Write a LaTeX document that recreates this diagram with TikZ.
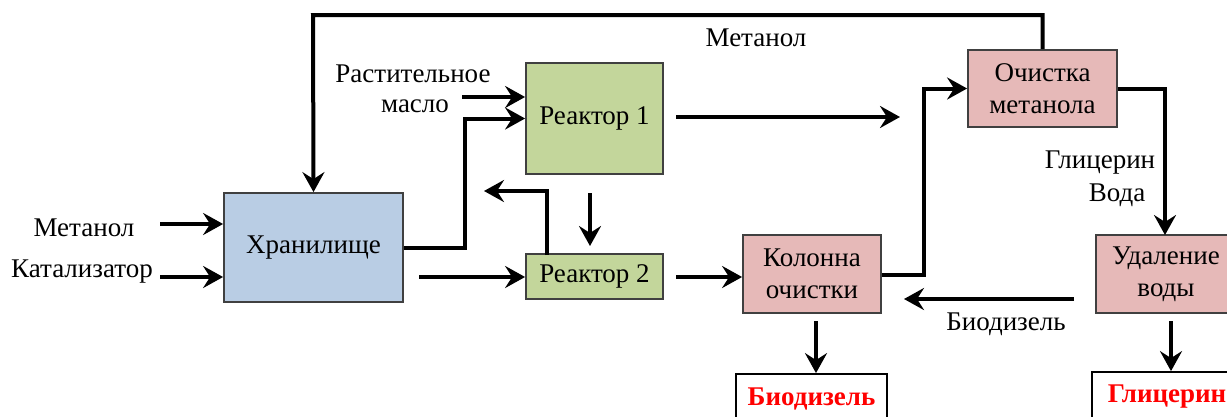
\documentclass[tikz,border=0pt]{standalone}
\usepackage{fontspec}
\setmainfont{Liberation Serif}
\usetikzlibrary{arrows.meta}
\definecolor{boxblue}{RGB}{185,205,228}
\definecolor{boxgreen}{RGB}{195,214,155}
\definecolor{boxpink}{RGB}{230,185,184}
\definecolor{boxline}{RGB}{64,64,64}
\begin{document}
\begin{tikzpicture}[x=1pt,y=-1pt,
  every node/.style={font=\fontsize{27}{32}\selectfont, inner sep=0pt},
  procbox/.style={draw=boxline, line width=1.8pt, align=center},
  bluebox/.style={procbox, fill=boxblue},
  greenbox/.style={procbox, fill=boxgreen},
  pinkbox/.style={procbox, fill=boxpink},
  outbox/.style={draw=black, line width=1.8pt, fill=white, text=red, font=\fontsize{27}{32}\selectfont\bfseries},
  lbl/.style={align=center},
  arr/.style={line width=4pt, -{Stealth[length=20pt,width=22pt,inset=7pt]}},
  ln/.style={line width=4pt}]
\useasboundingbox (0,0) rectangle (1227,416);
\clip (0,0) rectangle (1227,416);

% boxes
\node[bluebox, minimum width=179pt, minimum height=109pt] (H) at (313.5,247.5) {Хранилище};
\node[greenbox, minimum width=137pt, minimum height=111pt] (R1) at (594.5,118.5) {Реактор 1};
\node[greenbox, minimum width=137pt, minimum height=45pt] (R2) at (594.5,276.5) {Реактор 2};
\node[pinkbox, minimum width=138pt, minimum height=78pt] (K) at (812,274) {Колонна\\очистки};
\node[pinkbox, minimum width=149pt, minimum height=77pt] (O) at (1042.5,88.5) {Очистка\\метанола};
\node[pinkbox, minimum width=140pt, minimum height=78pt] (U) at (1166,274) {Удаление\\воды};
\node[outbox, minimum width=151pt, minimum height=50pt] (B) at (811.5,399) {Биодизель};
\node[outbox, minimum width=150pt, minimum height=50pt] (G) at (1167,397) {Глицерин};

% labels
\node[lbl] (lmet) at (84,228) {Метанол};
\node[lbl] (lkat) at (82,272) {Катализатор};
\node[lbl] (lrast) at (413,74) {Растительное};
\node[lbl] (lmaslo) at (415,106) {масло};
\node[lbl] (lmettop) at (756,38) {Метанол};
\node[lbl] (lglic) at (1100,163) {Глицерин};
\node[lbl] (lvoda) at (1117,195) {Вода};
\node[lbl] (lbio) at (1006,324) {Биодизель};

% free ends
\coordinate (m1) at (160,224);
\coordinate (k1) at (160,277);
\coordinate (ms) at (462,97);
\coordinate (h2) at (419,277);
\coordinate (r1o) at (676,117);
\coordinate (r1e) at (900,117);
\coordinate (dn1) at (590,193);
\coordinate (dn2) at (590,246);
\coordinate (r2up) at (547,255);
\coordinate (r2l) at (484,191);
\coordinate (r2o) at (676,277);
\coordinate (u1) at (1074,299);
\coordinate (u2) at (904,299);
\coordinate (kd) at (816,321);
\coordinate (ud) at (1171,321);
\coordinate (top) at (313,15);

% connectors
\draw[arr] (m1) -- (m1 -| H.west);
\draw[arr] (k1) -- (k1 -| H.west);
\draw[arr] (H.east) -- ++(61,0) |- (R1.west);
\draw[arr] (ms) -- (ms -| R1.west);
\draw[arr] (h2) -- (h2 -| R2.west);
\draw[arr] (r1o) -- (r1e);
\draw[arr] (dn1) -- (dn2);
\draw[arr] (r2up) |- (r2l);
\draw[arr] (r2o) -- (r2o -| K.west);
\draw[arr] (K.east |- 0,275) -- (924,275) |- (O.west);
\draw[arr] (O.east) -- (1165,88.5) -- (1165,235);
\draw[arr] (u1) -- (u2);
\draw[arr] (kd) -- (kd |- B.north);
\draw[arr] (ud) -- (ud |- G.north);
\draw[arr] (O.north) |- (top) -- (H.north);
\end{tikzpicture}
\end{document}
